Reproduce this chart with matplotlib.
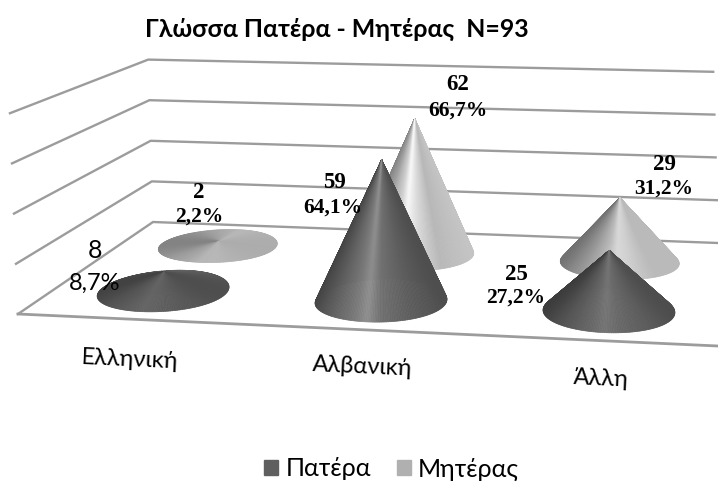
#!/usr/bin/env python3
"""3D-style cone chart of parents' language, drawn with plain 2D polygons."""

import numpy as np
import matplotlib
matplotlib.use("Agg")
import matplotlib.pyplot as plt
from matplotlib.collections import PolyCollection
from matplotlib.patches import Patch

categories = ["Ελληνική", "Αλβανική", "Άλλη"]
series_names = ["Πατέρα", "Μητέρας"]
father_counts = [8, 59, 25]
mother_counts = [2, 62, 29]
father_pct = ["8,7%", "64,1%", "27,2%"]
mother_pct = ["2,2%", "66,7%", "31,2%"]
grid_levels = [0, 20, 40, 60, 80]

SANS = ["Lato", "Open Sans", "DejaVu Sans"]
SERIF = ["Liberation Serif", "DejaVu Serif"]

# floor corners of the box in pixels, u runs left-right and d front-back
FL = np.array([18.0, 314.0])
FR = np.array([718.0, 346.0])
BL = np.array([153.0, 222.0])
BR = np.array([718.0, 243.0])

# gray levels across the visible width of a cone, from left rim to right rim
rim_t = [-1, -0.6, -0.2, 0, 0.2, 0.6, 1]
father_tall = [0x42, 0x5c, 0x78, 0x8e, 0x70, 0x5e, 0x4e]
father_flat = [0x3a, 0x50, 0x60, 0x68, 0x66, 0x5a, 0x4c]
mother_tall = [0x80, 0xa0, 0xd0, 0xf8, 0xe0, 0xb8, 0xc4]
mother_flat = [0x68, 0x90, 0xb0, 0xc4, 0xc8, 0xbc, 0xb4]


def project(u, d, z=0.0):
    """Map box coordinates to pixels (bilinear floor, height scale by depth)."""
    u = np.asarray(u, dtype=float)
    d = np.asarray(d, dtype=float)
    front = FL + u[..., None] * (FR - FL)
    back = BL + u[..., None] * (BR - BL)
    p = front + d[..., None] * (back - front)
    x = p[..., 0] - z * (0.10 - 0.04 * d)
    y = p[..., 1] - z * (2.51 - 0.48 * d + 0.11 * u * d)
    return x, y


def draw_cone(ax, u, d, value, flat, tall, zorder):
    ru = 0.1
    rd = 0.248 - 0.094 * d
    theta = np.linspace(0, 2 * np.pi, 241)
    bx, by = project(u + ru * np.cos(theta), d + rd * np.sin(theta))
    cx, _ = project(u, d)
    _, tip_y = project(u, d, value)

    # the floor shear widens cones near the left wall, keep the width by depth
    half = ru * (FR[0] - (FL[0] + d * (BL[0] - FL[0])))
    bx = cx + (bx - cx) * half / ((bx.max() - bx.min()) / 2)

    # taller cones get the stronger highlight band, low ones are almost even
    mix = min(value / 55.0, 1.0) ** 1.5
    mid = 0.5 * (theta[:-1] + theta[1:])
    gray = (1 - mix) * np.interp(np.cos(mid), rim_t, flat) + mix * np.interp(np.cos(mid), rim_t, tall)
    gray = gray.mean() + (gray - gray.mean()) * (0.5 + 0.5 * min(value / 20.0, 1.0))

    # back facets first so the front ones cover them
    order = np.argsort(-np.sin(mid))
    polys = []
    colors = []
    for i in order:
        polys.append([(float(cx), float(tip_y)), (bx[i], by[i]), (bx[i + 1], by[i + 1])])
        colors.append((gray[i] / 255,) * 3)
    ax.add_collection(PolyCollection(polys, facecolors=colors, edgecolors=colors,
                                     linewidths=0.5, zorder=zorder))


def value_labels(ax, xy, count, pct, sans=False):
    x1, y1, x2, y2 = xy
    if sans:
        ax.text(x1, y1, str(count), family=SANS, fontsize=18, ha="center", va="center", zorder=20)
        ax.text(x2, y2, pct, family=SANS, fontsize=17, ha="center", va="center", zorder=20)
    else:
        ax.text(x1, y1, str(count), family=SERIF, weight="bold", fontsize=16.5,
                ha="center", va="center", zorder=20)
        ax.text(x2, y2, pct, family=SERIF, weight="bold", fontsize=15.5,
                ha="center", va="center", zorder=20)


fig = plt.figure(figsize=(7.18, 4.83), dpi=100)
ax = fig.add_axes([0, 0, 1, 1])
ax.set_xlim(0, 718)
ax.set_ylim(483, 0)
ax.axis("off")

# walls and floor
for level in grid_levels:
    x, y = project(np.array([0.0, 0.0, 1.0]), np.array([0.0, 1.0, 1.0]), level)
    ax.plot(x, y, color="#9c9c9c", lw=1.7, solid_joinstyle="miter", zorder=1)
x, y = project(np.array([0.0, 1.0]), np.array([0.0, 0.0]))
ax.plot(x, y, color="#9c9c9c", lw=2.0, zorder=1)

# father row stands in front of the mother row
cat_u = [0.16, 0.49, 0.835]
for i in range(len(categories)):
    draw_cone(ax, cat_u[i], 0.78, mother_counts[i], mother_flat, mother_tall, 2 + i)
for i in range(len(categories)):
    draw_cone(ax, cat_u[i], 0.30, father_counts[i], father_flat, father_tall, 6 + i)

# value labels; the first one keeps the plain sans face
father_xy = [(95, 250, 95, 283), (335, 183, 333, 208), (516, 274, 516, 298)]
mother_xy = [(199, 193, 199, 217), (458, 85, 458, 111), (664, 165, 664, 189)]
for i in range(len(categories)):
    value_labels(ax, mother_xy[i], mother_counts[i], mother_pct[i])
    value_labels(ax, father_xy[i], father_counts[i], father_pct[i], sans=i == 0)

# category names follow the slope of the front edge
cat_xy = [(130, 360), (362, 367), (601, 379)]
for name, (x, y) in zip(categories, cat_xy):
    ax.text(x, y, name, family=SANS, fontsize=17, rotation=-2.6, rotation_mode="anchor",
            ha="center", va="center", zorder=20)

ax.text(337, 29, "Γλώσσα Πατέρα - Μητέρας  N=93", family=SANS, weight="bold", fontsize=17.9,
        ha="center", va="center")

handles = [Patch(color="#5f5f5f", label=series_names[0]), Patch(color="#b0b0b0", label=series_names[1])]
ax.legend(handles=handles, loc="center", bbox_to_anchor=(391.5, 469), bbox_transform=ax.transData,
          ncols=2, frameon=False, prop={"family": SANS, "size": 18}, handlelength=0.56,
          handleheight=0.56, handletextpad=0.28, columnspacing=1.04)

fig.savefig("out.png", dpi=100)
